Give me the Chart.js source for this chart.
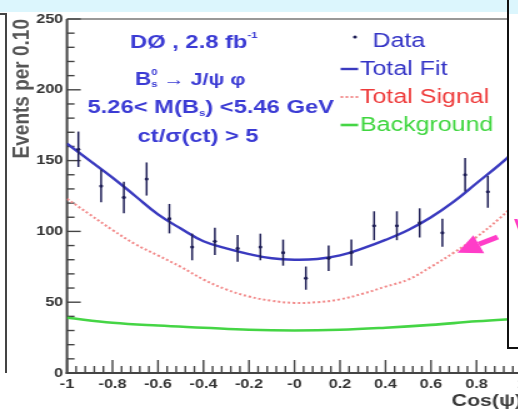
<!DOCTYPE html>
<html>
<head>
<meta charset="utf-8">
<script src="https://cdn.jsdelivr.net/npm/chart.js@4.4.1/dist/chart.umd.min.js"></script>
<style>
html, body { margin: 0; padding: 0; background: #fff; }
#wrap { position: relative; width: 518px; height: 414px; overflow: hidden; background: #fff; }
#band { position: absolute; left: 0; top: 0; width: 518px; height: 12px; background: #dcf6fd; }
#plot { position: absolute; left: 0; top: 0; transform: scaleX(1.25); transform-origin: 0 0; }
#leftFrame { position: absolute; left: -2px; top: 13px; width: 7px; height: 358px; border-top: 2px solid #444; border-right: 2px solid #444; }
#sideBox { position: absolute; left: 507px; top: -2px; width: 30px; height: 347px; border: 2px solid #111;
  background: linear-gradient(#dcf6fd 0, #dcf6fd 14px, #fff 14px); overflow: hidden; }
#sideBox span { position: absolute; left: 5px; top: 214px; color: #ff3dc8; font: bold 22px "Liberation Sans", Arial, sans-serif; }
</style>
</head>
<body>
<div id="wrap">
  <div id="band"></div>
  <canvas id="plot" width="432" height="414"></canvas>
  <div id="leftFrame"></div>
  <div id="sideBox"><span>V</span></div>
</div>
<script>
// cos(psi) distribution, events per 0.10 bin
const binCenters = [-0.95, -0.85, -0.75, -0.65, -0.55, -0.45, -0.35, -0.25, -0.15, -0.05,
                    0.05, 0.15, 0.25, 0.35, 0.45, 0.55, 0.65, 0.75, 0.85];
const counts = [158, 132, 124, 137, 109, 89, 93, 88, 89, 85,
                67, 81, 85, 104, 104, 106, 99, 140, 128];
const countErrors = [12.5, 11.5, 11.1, 11.7, 10.4, 9.4, 9.6, 9.4, 9.4, 9.2,
                     8.2, 9.0, 9.2, 10.2, 10.2, 10.3, 9.9, 11.8, 11.3];

// fit curves
const curveX = [-1, -0.9, -0.8, -0.7, -0.6, -0.5, -0.4, -0.3, -0.2, -0.1, 0,
                0.1, 0.2, 0.3, 0.4, 0.5, 0.6, 0.7, 0.8, 0.9, 1];
const totalFit = [162, 150, 138, 125, 112, 102, 93, 88, 84, 81, 80,
                  80.5, 83, 88, 94, 101, 110, 121, 134, 147, 161];
const totalSignal = [123, 112, 101, 91, 83, 75, 66, 59, 54, 51, 49.5,
                     50, 52, 56, 61, 66, 75, 85, 96, 109, 124];
const bkgX = [-1, -0.8, -0.6, -0.4, -0.2, 0, 0.2, 0.4, 0.6, 0.8, 1];
const background = [39, 35.5, 33.5, 32, 30.5, 30, 30.5, 32, 34, 36.5, 38.5];

const xTickLabels = ['-1', '-0.8', '-0.6', '-0.4', '-0.2', '-0', '0.2', '0.4', '0.6', '0.8', '1'];
const legendLabels = ['Data', 'Total Fit', 'Total Signal', 'Background'];
const legendTextColors = ['#3434c6', '#3434c6', '#ee3b3b', '#3fd63f'];

const FONT = '"Liberation Sans", Arial, sans-serif';

function pts(xs, ys) { return xs.map((x, i) => ({ x: x, y: ys[i] })); }

function line(ctx, x1, y1, x2, y2) {
  ctx.beginPath(); ctx.moveTo(x1, y1); ctx.lineTo(x2, y2); ctx.stroke();
}

// text with sub/superscripts; parts with stack:true don't advance
function drawRun(ctx, x, y, parts, color) {
  ctx.fillStyle = color;
  ctx.textBaseline = 'middle';
  ctx.textAlign = 'left';
  parts.forEach(p => {
    ctx.font = (p.w || 'bold') + ' ' + p.s + 'px ' + FONT;
    ctx.fillText(p.t, x, y + (p.dy || 0));
    if (!p.stack) x += ctx.measureText(p.t).width;
  });
}

const frame = {
  id: 'frame',
  beforeDatasetsDraw(chart) {
    const { ctx, chartArea: a, scales: { x, y } } = chart;
    ctx.save();
    ctx.strokeStyle = '#777';
    ctx.lineWidth = 1.6;
    line(ctx, a.left, a.top, a.right, a.top);
    ctx.strokeStyle = '#444';
    ctx.lineWidth = 1.4;
    for (let v = 0; v <= 250; v += 10) {
      const py = y.getPixelForValue(v);
      line(ctx, a.left, py, a.left + (v % 50 === 0 ? 11 : 6), py);
    }
    for (let k = 0; k <= 50; k++) {
      const px = x.getPixelForValue(-1 + k * 0.04);
      line(ctx, px, a.bottom, px, a.bottom - (k % 5 === 0 ? 13 : 7));
    }
    ctx.lineWidth = 2;
    line(ctx, a.left, a.top, a.left, a.bottom + 1);
    line(ctx, a.left - 1, a.bottom, a.right, a.bottom);
    ctx.restore();
  }
};

const errorBars = {
  id: 'errorBars',
  afterDatasetsDraw(chart) {
    const { ctx, scales: { x, y } } = chart;
    ctx.save();
    ctx.strokeStyle = '#1d1d55';
    ctx.lineWidth = 1.5;
    binCenters.forEach((c, i) => {
      const px = x.getPixelForValue(c);
      line(ctx, px, y.getPixelForValue(counts[i] + countErrors[i]), px, y.getPixelForValue(counts[i] - countErrors[i]));
    });
    ctx.restore();
  }
};

const labels = {
  id: 'labels',
  afterDraw(chart) {
    const { ctx, chartArea: a, scales: { x, y } } = chart;
    const ds = chart.data.datasets;
    ctx.save();

    const blue = '#3b3bd4';
    drawRun(ctx, 104, 43, [{ t: 'DØ , 2.8 fb', s: 19 }, { t: '-1', s: 9, dy: -7 }], blue);
    drawRun(ctx, 108, 80, [{ t: 'B', s: 18 }, { t: '0', s: 9, dy: -7, stack: true }, { t: 's', s: 9, dy: 5 },
                           { t: ' → J/ψ φ', s: 17 }], blue);
    drawRun(ctx, 70, 108, [{ t: '5.26< M(B', s: 19 }, { t: 's', s: 9, dy: 6 }, { t: ') <5.46 GeV', s: 19 }], blue);
    drawRun(ctx, 110, 137, [{ t: 'ct/σ(ct) > 5', s: 19 }], blue);

    // legend
    ds.forEach((d, i) => {
      const ry = a.top + 22 + i * 28;
      let tx = 288;
      if (i === 0) {
        ctx.fillStyle = d.pointBackgroundColor;
        ctx.beginPath(); ctx.arc(284, ry - 4, 1.6, 0, Math.PI * 2); ctx.fill();
        tx = 298;
      } else {
        ctx.strokeStyle = d.borderColor;
        ctx.lineWidth = d.borderWidth;
        ctx.setLineDash(d.borderDash || []);
        line(ctx, 272.5, ry, 286.5, ry);
        ctx.setLineDash([]);
      }
      drawRun(ctx, tx, ry, [{ t: d.label, s: 20, w: 'normal' }], legendTextColors[i]);
    });

    // arrow toward the signal curve
    const tx = x.getPixelForValue(0.716), ty = y.getPixelForValue(85);
    const fx = x.getPixelForValue(0.893), fy = y.getPixelForValue(96);
    const ang = Math.atan2(ty - fy, tx - fx);
    const hl = 19, hw = 10;
    const bx = tx - hl * Math.cos(ang), by = ty - hl * Math.sin(ang);
    ctx.strokeStyle = '#ff3dc8';
    ctx.fillStyle = '#ff3dc8';
    ctx.lineWidth = 5;
    line(ctx, fx, fy, bx, by);
    ctx.beginPath();
    ctx.moveTo(tx, ty);
    ctx.lineTo(bx + hw * Math.sin(ang), by - hw * Math.cos(ang));
    ctx.lineTo(bx - hw * Math.sin(ang), by + hw * Math.cos(ang));
    ctx.closePath();
    ctx.fill();
    ctx.restore();
  }
};

new Chart(document.getElementById('plot'), {
  type: 'scatter',
  data: {
    datasets: [
      { label: legendLabels[0], data: pts(binCenters, counts), pointRadius: 1.6,
        pointBackgroundColor: '#1d1d55', pointBorderWidth: 0 },
      { label: legendLabels[1], data: pts(curveX, totalFit), showLine: true, tension: 0.4,
        pointRadius: 0, borderColor: '#3a3abf', borderWidth: 2.4 },
      { label: legendLabels[2], data: pts(curveX, totalSignal), showLine: true, tension: 0.4,
        pointRadius: 0, borderColor: '#f28a8a', borderWidth: 2, borderDash: [2, 2] },
      { label: legendLabels[3], data: pts(bkgX, background), showLine: true, tension: 0.4,
        pointRadius: 0, borderColor: '#45d545', borderWidth: 2.6 }
    ]
  },
  options: {
    responsive: false,
    devicePixelRatio: 1,
    animation: false,
    events: [],
    layout: { padding: { top: 19, right: 14.4, left: 0, bottom: 0 } },
    plugins: { legend: { display: false }, tooltip: { enabled: false } },
    scales: {
      x: {
        type: 'linear', min: -1, max: 1,
        afterFit: s => { s.height = 41; },
        grid: { display: false, drawTicks: false },
        border: { display: false },
        ticks: {
          stepSize: 0.2, padding: 4, maxRotation: 0, autoSkip: false,
          color: '#333', font: { family: FONT, size: 13, weight: 'bold' },
          callback: (v, i) => xTickLabels[i]
        },
        title: { display: true, text: 'Cos(ψ)', align: 'end', color: '#3a3a3a',
                 font: { family: FONT, size: 17, weight: 'bold' }, padding: { top: 0, bottom: 2 } }
      },
      y: {
        min: 0, max: 250,
        afterFit: s => { s.width = 53.6; },
        grid: { display: false, drawTicks: false },
        border: { display: false },
        ticks: { stepSize: 50, padding: 3, color: '#333', font: { family: FONT, size: 13, weight: 'bold' } },
        title: { display: true, text: 'Events per 0.10', align: 'end', color: '#555',
                 font: { family: FONT, size: 19, weight: 'bold' }, padding: { top: 6, bottom: 0 } }
      }
    }
  },
  plugins: [frame, errorBars, labels]
});
</script>
</body>
</html>
